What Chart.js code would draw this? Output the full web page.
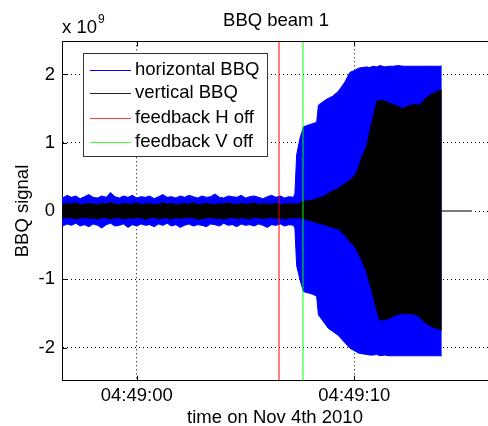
<!DOCTYPE html>
<html><head><meta charset="utf-8">
<script src="https://cdn.jsdelivr.net/npm/chart.js@4"></script>
<style>html,body{margin:0;padding:0;background:#fff;overflow:hidden}</style>
</head><body>
<canvas id="c" width="488" height="426" style="display:block;width:488px;height:426px"></canvas>
<script>
// ---- texts ----
const titleText = 'BBQ beam 1';
const xAxisTitle = 'time on Nov 4th 2010';
const yAxisTitle = 'BBQ signal';
const yExponentBase = 'x 10';
const yExponent = '9';
const seriesNames = ['horizontal BBQ', 'vertical BBQ', 'feedback H off', 'feedback V off'];

// ---- ticks (x in seconds after 04:49:00, y in units of 1e9) ----
const xTickValues = [0, 10];
const xTickLabels = ['04:49:00', '04:49:10'];
const yTickValues = [-2, -1, 0, 1, 2];
const xRange = [-3.433, 16.144];
const yRange = [-2.485, 2.485];

// ---- signal envelopes ----
const times = [
  -3.6,-3.4,-3.2,-3.0,-2.8,-2.6,-2.4,-2.2,-2.0,-1.8,
  -1.6,-1.4,-1.2,-1.0,-0.8,-0.6,-0.4,-0.2,0.0,0.2,
  0.4,0.6,0.8,1.0,1.2,1.4,1.6,1.8,2.0,2.2,
  2.4,2.6,2.8,3.0,3.2,3.4,3.6,3.8,4.0,4.2,
  4.4,4.6,4.8,5.0,5.2,5.4,5.6,5.8,6.0,6.2,
  6.4,6.6,6.8,7.0,7.2,
  7.27,7.35,7.5,7.66,7.89,8.1,8.27,8.35,8.65,8.81,
  9.0,9.26,9.57,9.8,10.03,10.18,10.34,10.57,10.7,10.87,
  11.03,11.18,11.41,11.6,11.8,12.0,12.25,12.5,12.75,13.0,
  13.2,13.4,13.6,13.8,14.02
];
const hUpper = [
  0.21,0.19,0.23,0.20,0.22,0.18,0.21,0.24,0.20,0.19,
  0.22,0.20,0.27,0.21,0.19,0.22,0.20,0.23,0.19,0.21,
  0.20,0.22,0.18,0.21,0.24,0.20,0.21,0.19,0.22,0.20,
  0.23,0.21,0.19,0.22,0.20,0.21,0.25,0.20,0.19,0.22,
  0.21,0.20,0.23,0.19,0.21,0.22,0.20,0.18,0.21,0.23,
  0.20,0.22,0.19,0.21,0.20,
  0.25,0.82,1.06,1.23,1.26,1.28,1.30,1.55,1.62,1.65,
  1.68,1.75,1.89,2.03,2.06,2.09,2.10,2.11,2.10,2.12,
  2.11,2.13,2.11,2.12,2.12,2.13,2.12,2.12,2.12,2.12,
  2.12,2.12,2.12,2.12,2.12
];
const hLower = [
  -0.20,-0.22,-0.19,-0.21,-0.18,-0.22,-0.20,-0.23,-0.19,-0.21,
  -0.25,-0.20,-0.18,-0.22,-0.21,-0.19,-0.24,-0.20,-0.22,-0.19,
  -0.21,-0.20,-0.23,-0.19,-0.21,-0.18,-0.22,-0.20,-0.24,-0.21,
  -0.19,-0.22,-0.20,-0.21,-0.23,-0.19,-0.20,-0.22,-0.18,-0.21,
  -0.20,-0.23,-0.19,-0.21,-0.20,-0.22,-0.19,-0.21,-0.24,-0.20,
  -0.21,-0.19,-0.22,-0.20,-0.21,
  -0.25,-0.80,-1.00,-1.18,-1.20,-1.22,-1.25,-1.52,-1.65,-1.72,
  -1.76,-1.82,-1.93,-2.01,-2.05,-2.08,-2.09,-2.10,-2.11,-2.11,
  -2.10,-2.12,-2.11,-2.12,-2.12,-2.12,-2.12,-2.12,-2.12,-2.12,
  -2.12,-2.12,-2.12,-2.12,-2.12
];
const vUpper = [
  0.10,0.09,0.11,0.10,0.12,0.09,0.10,0.11,0.10,0.09,
  0.11,0.10,0.12,0.10,0.09,0.11,0.10,0.10,0.12,0.09,
  0.10,0.11,0.09,0.10,0.12,0.10,0.11,0.09,0.10,0.11,
  0.10,0.12,0.09,0.10,0.11,0.10,0.09,0.11,0.10,0.12,
  0.10,0.09,0.11,0.10,0.10,0.12,0.09,0.11,0.10,0.10,
  0.11,0.09,0.10,0.11,0.10,
  0.10,0.10,0.11,0.14,0.15,0.16,0.18,0.19,0.22,0.26,
  0.29,0.33,0.40,0.45,0.52,0.62,0.78,0.95,1.15,1.38,
  1.60,1.62,1.61,1.58,1.56,1.53,1.50,1.54,1.56,1.55,
  1.62,1.68,1.72,1.75,1.77
];
const vLower = [
  -0.10,-0.11,-0.09,-0.10,-0.12,-0.10,-0.09,-0.11,-0.10,-0.12,
  -0.09,-0.10,-0.11,-0.10,-0.09,-0.12,-0.10,-0.11,-0.09,-0.10,
  -0.12,-0.10,-0.09,-0.11,-0.10,-0.10,-0.12,-0.09,-0.11,-0.10,
  -0.09,-0.10,-0.12,-0.11,-0.10,-0.09,-0.11,-0.10,-0.12,-0.10,
  -0.09,-0.11,-0.10,-0.10,-0.12,-0.09,-0.10,-0.11,-0.10,-0.09,
  -0.11,-0.10,-0.12,-0.10,-0.10,
  -0.10,-0.10,-0.10,-0.11,-0.13,-0.15,-0.17,-0.18,-0.20,-0.22,
  -0.24,-0.26,-0.35,-0.45,-0.52,-0.62,-0.72,-0.90,-1.05,-1.25,
  -1.45,-1.60,-1.59,-1.57,-1.54,-1.51,-1.50,-1.50,-1.51,-1.55,
  -1.62,-1.66,-1.70,-1.72,-1.74
];
const tailTimes = [14.02, 15.4];
const tailValues = [0, 0];
const feedbackHOff = 6.54;
const feedbackVOff = 7.64;

// ---- styling ----
const FONT = "'Liberation Sans', Arial, sans-serif";
const FS = 18.5;
const colors = { h: '#0000ff', v: '#000000', fh: 'rgba(255,0,0,0.5)', fv: 'rgba(0,255,0,0.5)' };
const legendColors = ['#0000ff', '#222222', '#ff3b3b', '#3bff3b'];

const pts = (xs, ys) => xs.map((x, i) => ({ x: x, y: ys[i] }));
const vline = (x) => [{ x: x, y: yRange[0] }, { x: x, y: yRange[1] }];

const base = { pointRadius: 0, borderWidth: 1, tension: 0, fill: false };

const data = {
  datasets: [
    Object.assign({}, base, { label: seriesNames[0], data: pts(times, hUpper), borderColor: colors.h, backgroundColor: colors.h, fill: '+1', order: 3 }),
    Object.assign({}, base, { label: seriesNames[0] + ' (lower)', data: pts(times, hLower), borderColor: colors.h, order: 3 }),
    Object.assign({}, base, { label: seriesNames[1], data: pts(times, vUpper), borderColor: colors.v, backgroundColor: colors.v, fill: '+1', order: 2 }),
    Object.assign({}, base, { label: seriesNames[1] + ' (lower)', data: pts(times, vLower), borderColor: colors.v, order: 2 }),
    Object.assign({}, base, { label: 'after acquisition', data: pts(tailTimes, tailValues), borderColor: '#7a7a7a', borderWidth: 2, order: 4 }),
    Object.assign({}, base, { label: seriesNames[2], data: vline(feedbackHOff), borderColor: colors.fh, borderWidth: 2, order: 0 }),
    Object.assign({}, base, { label: seriesNames[3], data: vline(feedbackVOff), borderColor: colors.fv, borderWidth: 2, order: 0 })
  ]
};

const decorPlugin = {
  id: 'decor',
  afterDatasetsDraw(chart) {
    const { ctx, chartArea: ca, scales } = chart;
    ctx.save();
    ctx.strokeStyle = '#000';
    ctx.lineWidth = 1;
    ctx.beginPath();
    // top border
    ctx.moveTo(ca.left, Math.round(ca.top) + 0.5);
    ctx.lineTo(ca.right, Math.round(ca.top) + 0.5);
    // inward tick marks
    xTickValues.forEach(v => {
      const px = Math.round(scales.x.getPixelForValue(v)) + 0.5;
      ctx.moveTo(px, ca.bottom); ctx.lineTo(px, ca.bottom - 5);
      ctx.moveTo(px, ca.top); ctx.lineTo(px, ca.top + 5);
    });
    yTickValues.forEach(v => {
      const py = Math.round(scales.y.getPixelForValue(v)) + 0.5;
      ctx.moveTo(ca.left, py); ctx.lineTo(ca.left + 5, py);
    });
    ctx.stroke();
    ctx.restore();
  },
  afterDraw(chart) {
    const { ctx, chartArea: ca } = chart;
    ctx.save();
    ctx.fillStyle = '#000';
    // title, centred over the full (partly off-screen) axes box
    ctx.font = FS + 'px ' + FONT;
    ctx.textAlign = 'center';
    ctx.textBaseline = 'middle';
    ctx.fillText(titleText, 276, 21);
    // exponent label
    ctx.textBaseline = 'alphabetic';
    ctx.textAlign = 'left';
    ctx.fillText(yExponentBase, 62, 33);
    const w = ctx.measureText(yExponentBase).width;
    ctx.font = '12px ' + FONT;
    ctx.fillText(yExponent, 62 + w + 1, 23);
    // legend
    const x0 = 83, y0 = 53, lw = 184, lh = 103;
    ctx.fillStyle = '#fff';
    ctx.fillRect(x0, y0, lw, lh);
    ctx.strokeStyle = '#333';
    ctx.lineWidth = 1;
    ctx.strokeRect(x0 + 0.5, y0 + 0.5, lw, lh);
    const rows = [69.5, 93, 117.5, 141.5];
    ctx.font = FS + 'px ' + FONT;
    ctx.textBaseline = 'middle';
    seriesNames.forEach((name, i) => {
      ctx.strokeStyle = legendColors[i];
      ctx.beginPath();
      ctx.moveTo(90, Math.round(rows[i]) + 0.5);
      ctx.lineTo(131, Math.round(rows[i]) + 0.5);
      ctx.stroke();
      ctx.fillStyle = '#000';
      ctx.fillText(name, 135, rows[i]);
    });
    ctx.restore();
  }
};

new Chart(document.getElementById('c'), {
  type: 'line',
  data: data,
  options: {
    responsive: false,
    devicePixelRatio: 1,
    animation: false,
    layout: { padding: { left: 0, right: 0, top: 41.3, bottom: 0 } },
    plugins: {
      legend: { display: false },
      tooltip: { enabled: false },
      title: { display: false }
    },
    scales: {
      x: {
        type: 'linear', min: xRange[0], max: xRange[1],
        afterBuildTicks: s => { s.ticks = xTickValues.map(v => ({ value: v })); },
        afterFit: s => { s.height = 45.3; },
        ticks: { color: '#000', font: { family: FONT, size: FS }, padding: 4, maxRotation: 0,
          callback: (v) => { const i = xTickValues.indexOf(v); return i >= 0 ? xTickLabels[i] : ''; } },
        grid: { color: '#000', lineWidth: 1, drawTicks: false },
        border: { display: true, color: '#000', width: 1, dash: [1, 3] },
        title: { display: true, text: xAxisTitle, color: '#000', font: { family: FONT, size: FS }, padding: { top: 0, bottom: -3 } }
      },
      y: {
        type: 'linear', min: yRange[0], max: yRange[1],
        afterBuildTicks: s => { s.ticks = yTickValues.map(v => ({ value: v })); },
        afterFit: s => { s.width = 62; },
        ticks: { color: '#000', font: { family: FONT, size: FS }, padding: 7, callback: v => String(v) },
        grid: { color: '#000', lineWidth: 1, drawTicks: false },
        border: { display: true, color: '#000', width: 1, dash: [1, 3] },
        title: { display: true, text: yAxisTitle, color: '#000', font: { family: FONT, size: FS }, padding: { top: 12, bottom: 0 } }
      }
    }
  },
  plugins: [decorPlugin]
});
</script>
</body></html>
